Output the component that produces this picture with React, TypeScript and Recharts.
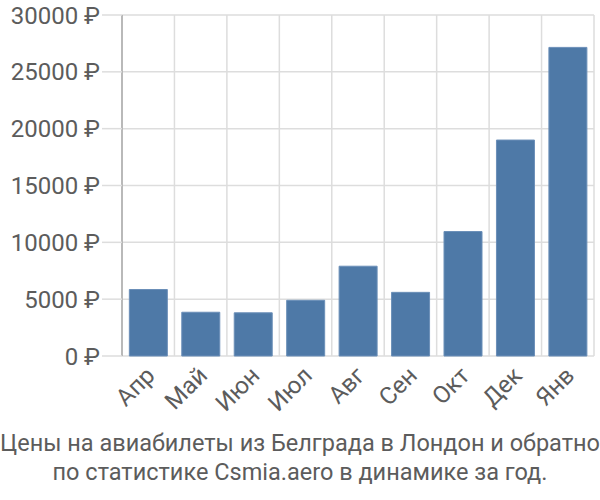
import React from 'react';
import { BarChart, Bar, XAxis, YAxis, CartesianGrid } from 'recharts';

const months = ['Апр', 'Май', 'Июн', 'Июл', 'Авг', 'Сен', 'Окт', 'Дек', 'Янв'];
const prices = [5850, 3850, 3800, 4900, 7900, 5600, 10950, 19000, 27150];
const yTicks = [0, 5000, 10000, 15000, 20000, 25000, 30000];
const boundaryTicks = [0, 1, 2, 3, 4, 5, 6, 7, 8, 9];
const titleLines = [
  'Цены на авиабилеты из Белграда в Лондон и обратно',
  'по статистике Csmia.aero в динамике за год.',
];

const data = months.map((m, i) => ({ month: m, price: prices[i], pos: i + 0.5 }));

const FONT = 'Roboto, "Liberation Sans", sans-serif';
const TEXT = '#5c5c5c';

const App: React.FC = () => {
  return (
    <div style={{ position: 'absolute', left: 0, top: 0, width: 600, height: 500, fontFamily: FONT }}>
      <BarChart width={600} height={500} data={data} margin={{ top: 15, right: 6, left: 0, bottom: 0 }} barCategoryGap="14%">
        {/* vertical lines sit on category borders, so they come from a numeric axis */}
        <CartesianGrid stroke="#dddddd" strokeWidth={1.5} xAxisId="edge" />
        <XAxis
          xAxisId="edge"
          type="number"
          dataKey="pos"
          domain={[0, 9]}
          ticks={boundaryTicks}
          height={0}
          tickSize={19}
          tick={() => <g />}
          tickLine={{ stroke: '#dddddd', strokeWidth: 1.5 }}
          axisLine={{ stroke: '#aaaaaa', strokeWidth: 1.5 }}
        />
        <XAxis
          xAxisId="cat"
          dataKey="month"
          height={144}
          interval={0}
          axisLine={false}
          tickLine={false}
          tickSize={7}
          tickMargin={2}
          angle={-45}
          textAnchor="end"
          tick={{ fill: TEXT, fontSize: 24, fontFamily: FONT, dx: -4 }}
        />
        <YAxis
          width={122}
          domain={[0, 30000]}
          ticks={yTicks}
          interval={0}
          tickSize={20}
          tickMargin={2}
          tickFormatter={(v: number) => `${v} ₽`}
          tickLine={{ stroke: '#dddddd', strokeWidth: 1.5 }}
          axisLine={{ stroke: '#aaaaaa', strokeWidth: 1.5 }}
          tick={{ fill: TEXT, fontSize: 24, fontFamily: FONT }}
        />
        <Bar dataKey="price" xAxisId="cat" fill="#4e79a7" stroke="#6b8fb8" strokeWidth={1} isAnimationActive={false} />
      </BarChart>
      <div
        style={{
          position: 'absolute',
          left: 0,
          top: 429,
          width: 600,
          textAlign: 'center',
          color: TEXT,
          fontSize: 23.5,
          lineHeight: '29px',
          fontFamily: FONT,
        }}
      >
        {titleLines.map((l) => (
          <div key={l}>{l}</div>
        ))}
      </div>
    </div>
  );
};

export default App;
